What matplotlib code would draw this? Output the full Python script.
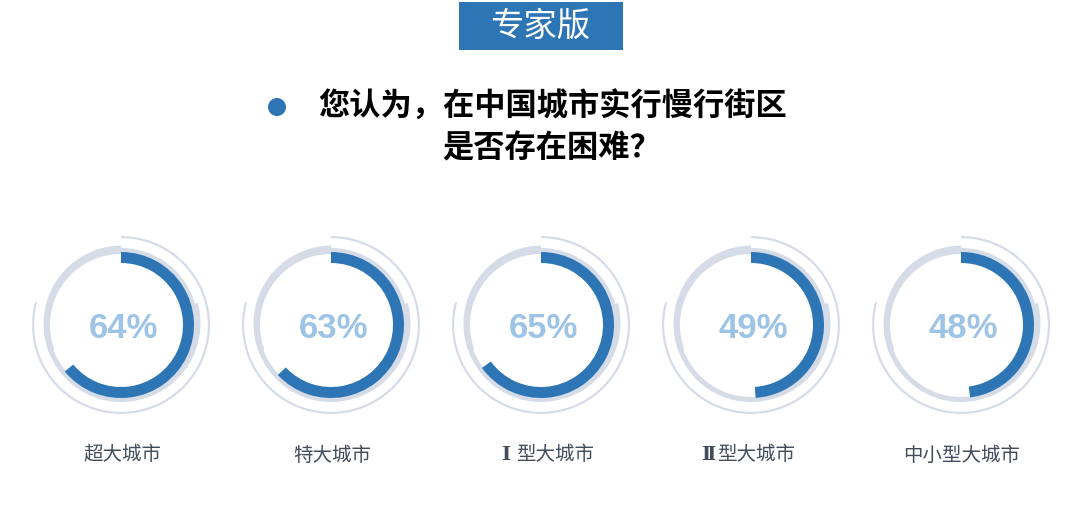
import matplotlib
matplotlib.use("Agg")
import numpy as np
import matplotlib.pyplot as plt
from matplotlib.patches import Wedge, Circle, Rectangle, Polygon

plt.rcParams['font.family'] = ['Noto Sans CJK SC', 'DejaVu Sans']

# data
categories = ['超大城市', '特大城市', 'Ⅰ 型大城市', 'Ⅱ型大城市', '中小型大城市']
percents = [64, 63, 65, 49, 48]
badge = '专家版'
question = ['您认为，在中国城市实行慢行街区', '是否存在困难？']

W, H = 1080, 519
BLUE = '#2e75b6'
TRACK = '#d5dce8'
PCT_COLOR = '#9dc3e6'
LABEL_COLOR = '#434c5b'
ROMAN = 'ⅠⅡ'

fig = plt.figure(figsize=(W / 100, H / 100), dpi=100)
ax = fig.add_axes([0, 0, 1, 1])
ax.set_xlim(0, W)
ax.set_ylim(0, H)
ax.set_aspect('equal')
ax.axis('off')
renderer = fig.canvas.get_renderer()


def Y(py):
    # picture rows are counted from the top
    return H - py


def taper(cx, cy, a1, a2, r_in, r1, r2, **kw):
    # band whose outer edge goes from r1 at angle a1 to r2 at angle a2
    t = np.radians(np.linspace(a1, a2, 80))
    ro = np.linspace(r1, r2, 80)
    outer = np.c_[cx + ro * np.cos(t), cy + ro * np.sin(t)]
    inner = np.c_[cx + r_in * np.cos(t[::-1]), cy + r_in * np.sin(t[::-1])]
    ax.add_patch(Polygon(np.vstack([outer, inner]), closed=True, lw=0, **kw))


# badge
ax.add_patch(Rectangle((459, Y(50)), 164, 48, color=BLUE, lw=0))
ax.text(540, Y(26), badge, color='white', fontsize=24, ha='center', va='center')

# question
ax.add_patch(Circle((277, Y(107)), 9, color=BLUE, lw=0))
ax.text(553, Y(107), question[0], fontsize=22.5, fontweight='bold', ha='center', va='center')
ax.text(552, Y(148), question[1], fontsize=22.5, fontweight='bold', ha='center', va='center')

x0, step, cy = 121, 210, Y(325)
for i, (name, p) in enumerate(zip(categories, percents)):
    cx = x0 + i * step
    # base track
    ax.add_patch(Wedge((cx, cy), 77, 0, 360, width=5, color=TRACK, lw=0))
    # thicker, tapering track pieces
    taper(cx, cy, 90, 200, 71, 79.5, 77, color=TRACK)
    taper(cx, cy, 16, -70, 71, 80, 77, color=TRACK)
    # outer thin arc
    ax.add_patch(Wedge((cx, cy), 89, 165 - 360, 90, width=2.2, color=TRACK, lw=0))
    # value arc, clockwise from the top
    ax.add_patch(Wedge((cx, cy), 73, 90 - p * 3.6, 90, width=11, color=BLUE, lw=0))
    ax.text(cx + 2, cy - 4, f'{p}%', color=PCT_COLOR, fontsize=25, fontweight='bold',
            family=['Liberation Sans', 'DejaVu Sans'], ha='center', va='center')

    ly = Y(455)
    if name[0] in ROMAN:
        pre = name[0]
        rest = name[1:]
        spaced = rest.startswith(' ')
        gap = 6 if spaced else 1
        shift = 7 if spaced else -3
        rest = rest.strip()
        t1 = ax.text(0, ly, pre, color=LABEL_COLOR, fontsize=14, fontweight='bold',
                     family=['DejaVu Serif', 'Noto Sans CJK SC'], ha='left', va='center')
        t2 = ax.text(0, ly, rest, color=LABEL_COLOR, fontsize=14, fontweight='medium',
                     ha='left', va='center')
        w1 = t1.get_window_extent(renderer).width
        w2 = t2.get_window_extent(renderer).width
        left = cx + shift - (w1 + gap + w2) / 2
        t1.set_x(left)
        t2.set_x(left + w1 + gap)
    else:
        ax.text(cx + 1, ly, name, color=LABEL_COLOR, fontsize=14, fontweight='medium',
                ha='center', va='center')

fig.savefig('out.png', dpi=100, facecolor='white')
